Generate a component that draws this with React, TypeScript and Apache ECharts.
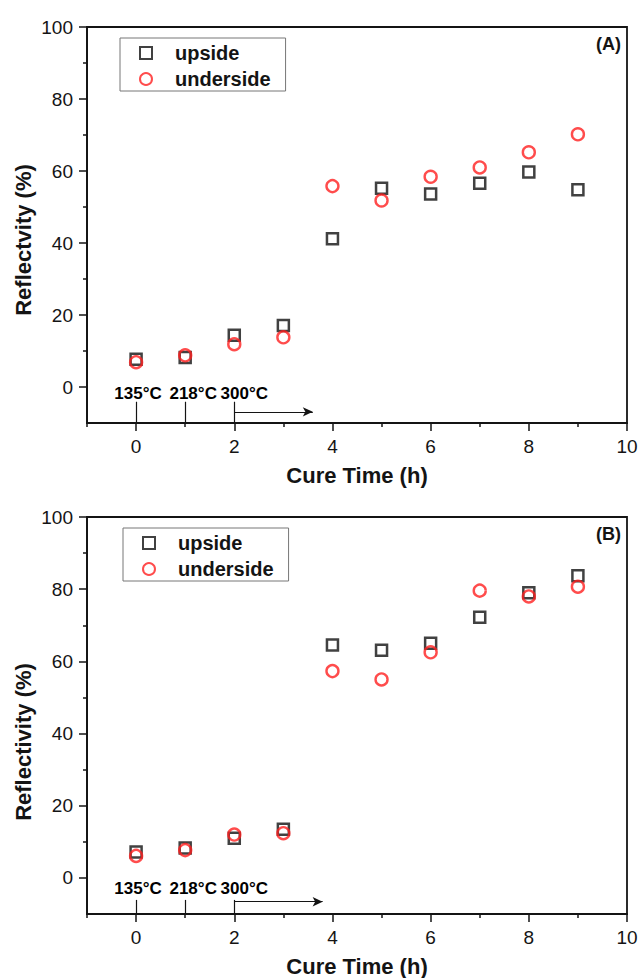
import React, { useEffect, useRef } from "react";
import * as echarts from "echarts";

const times = [0, 1, 2, 3, 4, 5, 6, 7, 8, 9];
const upsideA = [7.7, 8.2, 14.4, 17.1, 41.2, 55.2, 53.6, 56.6, 59.7, 54.8];
const undersideA = [6.9, 8.8, 11.9, 13.8, 55.8, 51.8, 58.4, 61.0, 65.2, 70.2];
const upsideB = [7.2, 8.3, 11.0, 13.5, 64.5, 63.1, 65.0, 72.2, 79.0, 83.7];
const undersideB = [6.1, 7.7, 12.0, 12.4, 57.3, 55.0, 62.5, 79.6, 78.0, 80.7];

const yMajorTicks = [0, 20, 40, 60, 80, 100];
const yMinorTicks = [10, 30, 50, 70, 90];
const xMajorTicks = [0, 2, 4, 6, 8, 10];
const xMinorTicks = [-1, 1, 3, 5, 7, 9];

const tempLabels = ["135°C", "218°C", "300°C"];
const tempSteps = [0, 1, 2];

const FONT = "Liberation Sans, Arial, sans-serif";
const AX = "#141414";

function pairs(ys: number[]) {
  return times.map((t, i) => [t, ys[i]]);
}

function buildAxes(gridIndex: number, xName: string) {
  const xMain = {
    type: "value",
    gridIndex,
    min: -1,
    max: 10,
    position: "bottom",
    name: xName,
    nameLocation: "middle",
    nameGap: 41,
    nameTextStyle: { fontFamily: FONT, fontSize: 22, fontWeight: "bold", color: AX },
    axisLine: { show: true, onZero: false, lineStyle: { color: AX, width: 1.8 } },
    axisTick: { show: true, inside: false, length: 8, customValues: xMajorTicks, lineStyle: { color: AX, width: 1.5 } },
    axisLabel: { show: true, customValues: xMajorTicks, margin: 14, fontFamily: FONT, fontSize: 19, color: AX },
    splitLine: { show: false },
  };
  const xMinor = {
    type: "value",
    gridIndex,
    min: -1,
    max: 10,
    position: "bottom",
    axisLine: { show: false, onZero: false },
    axisTick: { show: true, inside: false, length: 4, customValues: xMinorTicks, lineStyle: { color: AX, width: 1.5 } },
    axisLabel: { show: false },
    splitLine: { show: false },
  };
  const yMain = {
    type: "value",
    gridIndex,
    min: -10,
    max: 100,
    position: "left",
    axisLine: { show: true, onZero: false, lineStyle: { color: AX, width: 1.8 } },
    axisTick: { show: true, inside: false, length: 8, customValues: yMajorTicks, lineStyle: { color: AX, width: 1.5 } },
    axisLabel: { show: true, customValues: yMajorTicks, margin: 14, fontFamily: FONT, fontSize: 19, color: AX },
    splitLine: { show: false },
  };
  const yMinor = {
    type: "value",
    gridIndex,
    min: -10,
    max: 100,
    position: "left",
    offset: 0,
    axisLine: { show: false, onZero: false },
    axisTick: { show: true, inside: false, length: 4, customValues: yMinorTicks, lineStyle: { color: AX, width: 1.5 } },
    axisLabel: { show: false },
    splitLine: { show: false },
  };
  return { xs: [xMain, xMinor], ys: [yMain, yMinor] };
}

function buildSeries(axisIndex: number, up: number[], under: number[], textY: number, lineTop: number, arrowY: number, arrowEnd: number) {
  const labelOffsets = [[2, 0], [8, 0], [10, 0]];
  return [
    {
      type: "scatter",
      name: "upside",
      xAxisIndex: axisIndex,
      yAxisIndex: axisIndex,
      symbol: "rect",
      symbolSize: 11,
      itemStyle: { color: "rgba(255,255,255,0)", borderColor: "#111111", borderWidth: 2.5 },
      data: pairs(up),
      z: 3,
    },
    {
      type: "scatter",
      name: "underside",
      xAxisIndex: axisIndex,
      yAxisIndex: axisIndex,
      symbol: "circle",
      symbolSize: 12,
      itemStyle: { color: "rgba(255,255,255,0)", borderColor: "#ff1f1f", borderWidth: 2.4 },
      data: pairs(under),
      z: 4,
    },
    {
      type: "scatter",
      name: "temps",
      xAxisIndex: axisIndex,
      yAxisIndex: axisIndex,
      symbol: "circle",
      symbolSize: 1,
      itemStyle: { color: "#ffffff", opacity: 1 },
      silent: true,
      z: 1,
      label: {
        show: true,
        position: "inside",
        fontFamily: FONT,
        fontSize: 17,
        fontWeight: "bold",
        color: "#000000",
        opacity: 1,
        textBorderWidth: 0,
      },
      data: tempSteps.map((s, i) => ({
        value: [s, textY],
        label: { offset: labelOffsets[i], formatter: tempLabels[i] },
      })),
      markLine: {
        silent: true,
        animation: false,
        symbol: ["none", "none"],
        label: { show: false },
        lineStyle: { color: AX, width: 1.2, type: "solid", opacity: 1 },
        data: [
          ...tempSteps.map((s) => [{ coord: [s, lineTop] }, { coord: [s, -10] }]),
          [
            { coord: [tempSteps[2], arrowY], symbol: "none" },
            { coord: [arrowEnd, arrowY], symbol: "arrow", symbolSize: [7, 10] },
          ],
        ],
      },
    },
  ];
}

export default function App() {
  const ref = useRef<HTMLDivElement>(null);
  useEffect(() => {
    if (!ref.current) return;
    const chart = echarts.init(ref.current, null, { renderer: "svg" });
    const a = buildAxes(0, "Cure Time (h)");
    const b = buildAxes(1, "Cure Time (h)");
    const legendBase = {
      orient: "vertical",
      data: ["upside", "underside"],
      borderColor: "#777",
      borderWidth: 1,
      itemWidth: 12,
      itemHeight: 12,
      itemGap: 6,
      padding: [5, 15, 2, 19],
      selectedMode: false,
      textStyle: { fontFamily: FONT, fontSize: 20, fontWeight: "bold", color: AX, padding: [0, 0, 0, 18] },
    };
    chart.setOption({
      animation: false,
      backgroundColor: "#ffffff",
      grid: [
        { left: 87, right: 14, top: 27, height: 396, show: true, borderColor: AX, borderWidth: 1.8, backgroundColor: "transparent" },
        { left: 87, right: 14, top: 517, height: 399, show: true, borderColor: AX, borderWidth: 1.8, backgroundColor: "transparent" },
      ],
      xAxis: [...a.xs, ...b.xs],
      yAxis: [...a.ys, ...b.ys],
      legend: [
        { ...legendBase, left: 120, top: 38 },
        { ...legendBase, left: 123, top: 528 },
      ],
      graphic: [
        { type: "text", x: 23, y: 240, rotation: Math.PI / 2, style: { text: "Reflectvity (%)", fontFamily: FONT, fontSize: 22, fontWeight: "bold", fill: AX, align: "center", verticalAlign: "middle" } },
        { type: "text", x: 23, y: 742, rotation: Math.PI / 2, style: { text: "Reflectivity (%)", fontFamily: FONT, fontSize: 22, fontWeight: "bold", fill: AX, align: "center", verticalAlign: "middle" } },
        { type: "text", x: 621, y: 44, style: { text: "(A)", fontFamily: FONT, fontSize: 18, fontWeight: "bold", fill: AX, align: "right", verticalAlign: "middle" } },
        { type: "text", x: 621, y: 534, style: { text: "(B)", fontFamily: FONT, fontSize: 18, fontWeight: "bold", fill: AX, align: "right", verticalAlign: "middle" } },
      ],
      series: [
        ...buildSeries(0, upsideA, undersideA, -1.9, -4.1, -6.9, 3.6),
        ...buildSeries(2, upsideB, undersideB, -3.0, -6.1, -6.6, 3.8),
      ],
    });
    return () => chart.dispose();
  }, []);
  return <div ref={ref} style={{ position: "absolute", left: 0, top: 0, width: 641, height: 978 }} />;
}
